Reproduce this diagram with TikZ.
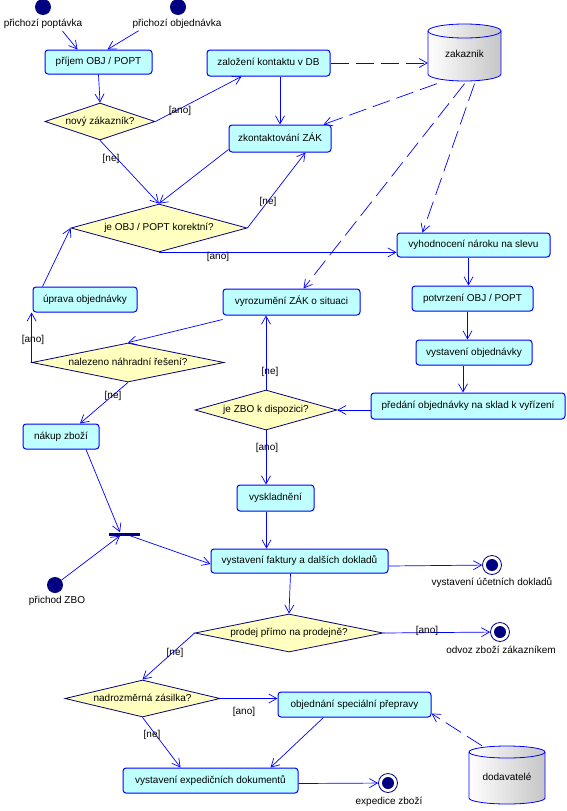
\documentclass[tikz,border=0pt]{standalone}
\usepackage{fontspec}
\setmainfont{Liberation Sans}
\usetikzlibrary{shapes.geometric,arrows.meta,backgrounds}

\definecolor{linec}{RGB}{0,0,255}
\definecolor{darkc}{RGB}{0,0,128}
\definecolor{actfill}{RGB}{192,255,255}
\definecolor{decfill}{RGB}{255,255,192}

\tikzset{
  act/.style={draw=linec, line width=1pt, fill=actfill, rounded corners=3pt,
    inner sep=0pt, text height=7pt, text depth=2pt},
  dec/.style={shape=diamond, draw=darkc, line width=0.8pt, fill=decfill,
    shape aspect=4.5, inner sep=0pt, text height=6pt, text depth=1pt},
  flow/.style={draw=linec, line width=0.7pt, -{Straight Barb[length=8pt,width=9pt]}},
  dep/.style={flow, dash pattern=on 18pt off 7pt},
  guard/.style={inner sep=0pt},
  startst/.style={circle, fill=darkc, minimum size=16pt, inner sep=0pt},
  endst/.style={circle, draw=darkc, fill=white, line width=0.8pt, minimum size=19pt,
    inner sep=0pt, path picture={\fill[darkc] (path picture bounding box.center) circle (6pt);}},
  dbase/.style={inner sep=0pt},
}

\begin{document}
\begin{tikzpicture}[x=1pt, y=-1pt, font=\fontsize{10}{12}\selectfont]

    \useasboundingbox (0,0) rectangle (567,811);

    % Start states and their names
    \node[startst] (ini1) at (43,7) {};
    \node[startst] (ini2) at (178,7) {};
    \node[startst] (ini3) at (55,585) {};
    \node (ini1lbl) at (43,24) {přichozí poptávka};
    \node (ini2lbl) at (177,24) {přichozí objednávka};
    \node (ini3lbl) at (57,601) {přichod ZBO};

    % Activities
    \node[act, minimum width=107pt, minimum height=24pt] (prijem) at (98.5,62) {příjem OBJ / POPT};
    \node[act, minimum width=123pt, minimum height=26pt] (zal) at (268.5,63) {založení kontaktu v DB};
    \node[act, minimum width=102pt, minimum height=27pt] (zk) at (280,138.5) {zkontaktování ZÁK};
    \node[act, minimum width=104pt, minimum height=25pt] (upr) at (85,299.5) {úprava objednávky};
    \node[act, minimum width=137pt, minimum height=26pt] (vyr) at (291.5,302) {vyrozumění ZÁK o situaci};
    \node[act, minimum width=153pt, minimum height=24pt] (vyh) at (473.5,245) {vyhodnocení nároku na slevu};
    \node[act, minimum width=121pt, minimum height=25pt] (pot) at (472.5,298.5) {potvrzení OBJ / POPT};
    \node[act, minimum width=116pt, minimum height=25pt] (vob) at (474,352.5) {vystavení objednávky};
    \node[act, minimum width=194pt, minimum height=26pt] (pre) at (468,406) {předání objednávky na sklad k vyřízení};
    \node[act, minimum width=76pt, minimum height=25pt] (nak) at (61,436.5) {nákup zboží};
    \node[act, minimum width=77pt, minimum height=26pt] (vys) at (275.5,498) {vyskladnění};
    \node[act, minimum width=177pt, minimum height=24pt] (fak) at (299.5,561) {vystavení faktury a dalších dokladů};
    \node[act, minimum width=153pt, minimum height=25pt] (obj) at (354.5,704.5) {objednání speciální přepravy};
    \node[act, minimum width=175pt, minimum height=25pt] (exp) at (210.5,780.5) {vystavení expedičních dokumentů};

    % Decisions
    \node[dec, minimum width=110pt, minimum height=37pt] (nz) at (100,121.5) {nový zákazník?};
    \node[dec, minimum width=176pt, minimum height=48pt] (korekt) at (159,228) {je OBJ / POPT korektní?};
    \node[dec, minimum width=192pt, minimum height=39pt] (nal) at (128,362.5) {nalezeno náhradní řešení?};
    \node[dec, minimum width=142pt, minimum height=40pt] (dzbo) at (266,410) {je ZBO k dispozici?};
    \node[dec, minimum width=188pt, minimum height=38pt] (prod) at (289,633) {prodej přímo na prodejně?};
    \node[dec, minimum width=155pt, minimum height=37pt] (nad) at (142.5,698.5) {nadrozměrná zásilka?};

    % Synchronisation bar
    \node[fill=darkc, minimum width=31pt, minimum height=3pt, inner sep=0pt] (bar) at (124,534) {};

    % End states and their names
    \node[endst] (fin1) at (492,565) {};
    \node[endst] (fin2) at (500,632) {};
    \node[endst] (fin3) at (388,783) {};
    \node (fin1lbl) at (492,582) {vystavení účetních dokladů};
    \node (fin2lbl) at (501,650) {odvoz zboží zákazníkem};
    \node (fin3lbl) at (389,802) {expedice zboží};

    % Data stores
    \node[dbase, minimum width=73pt, minimum height=57pt] (zak) at (464.5,54) {zakaznik};
    \node[dbase, minimum width=76pt, minimum height=58pt] (dod) at (507,777) {dodavatelé};
    \begin{scope}[on background layer]
      \shadedraw[left color=white, right color=gray!45, draw=linec, line width=0.8pt]
        (428,31) -- (428,74) arc[start angle=180, end angle=0, x radius=36.5, y radius=7]
        -- (501,31) arc[start angle=0, end angle=-180, x radius=36.5, y radius=7] -- cycle;
      \draw[linec, line width=0.8pt] (428,31) arc[start angle=180, end angle=0, x radius=36.5, y radius=7];
      \shadedraw[left color=white, right color=gray!45, draw=linec, line width=0.8pt]
        (469,752) -- (469,798) arc[start angle=180, end angle=0, x radius=38, y radius=6]
        -- (545,752) arc[start angle=0, end angle=-180, x radius=38, y radius=6] -- cycle;
      \draw[linec, line width=0.8pt] (469,752) arc[start angle=180, end angle=0, x radius=38, y radius=6];
    \end{scope}

    % Incoming requests
    \draw[flow, shorten <=31pt] (ini1.center) -- ([xshift=-21pt]prijem.north);
    \draw[flow, shorten <=46pt] (ini2.center) -- ([xshift=9pt]prijem.north);
    \draw[flow] (prijem.south) -- (nz.north);

    % New customer
    \draw[flow] (nz.east) -- ([xshift=35pt]zal.south west);
    \draw[flow] (nz.south) -- (korekt.north);
    \draw[flow] (zal.south -| zk.north) -- (zk.north);
    \draw[flow] ([yshift=3pt]zk.south west) -- (korekt.north);
    \draw[flow] (korekt.east) -- ([xshift=-26pt]zk.south east);
    \draw[flow] (korekt.south) -- (korekt.south -| vyh.west);
    \draw[flow] ([xshift=10pt]upr.north west) -- (korekt.west);

    % Database access
    \draw[dep] (zal.east) -- (zal.east -| zak.west);
    \draw[dep] ([xshift=9pt,yshift=-1pt]zak.south west) -- ([xshift=-8pt]zk.north east);
    \draw[dep] ([yshift=-1pt]zak.south) -- ([xshift=12pt]vyr.north);
    \draw[dep] ([xshift=10pt,yshift=-1pt]zak.south) -- ([xshift=26pt]vyh.north west);
    \draw[dep] ([xshift=-25pt,yshift=2pt]dod.north) -- ([yshift=4pt]obj.south east);

    % Order handling
    \draw[flow] ([xshift=-5pt]vyh.south) -- ([xshift=-5pt]vyh.south |- pot.north);
    \draw[flow] ([xshift=-5pt]pot.south) -- ([xshift=-5pt]pot.south |- vob.north);
    \draw[flow] ([xshift=-11pt]vob.south) -- ([xshift=-11pt]vob.south |- pre.north);
    \draw[flow] (dzbo.east -| pre.west) -- (dzbo.east);
    \draw[flow] (dzbo.north) -- (dzbo.north |- vyr.south);
    \draw[flow] (dzbo.south) -- (dzbo.south |- vys.north);
    \draw[flow] ([yshift=-4pt]vyr.south west) -- (nal.north);
    \draw[flow] (nal.west) -- (nal.west |- upr.south);
    \draw[flow] (nal.south) -- ([xshift=19pt]nak.north);

    % Goods
    \draw[flow] ([xshift=25pt]nak.south) -- ([xshift=-4pt]bar.north);
    \draw[flow] (ini3) -- ([xshift=-4pt]bar.south);
    \draw[flow] ([xshift=6pt]bar.south) -- ([yshift=-3pt]fak.west);
    \draw[flow] ([xshift=-9pt]vys.south) -- ([xshift=-9pt]vys.south |- fak.north);
    \draw[flow] ([yshift=-5pt]fak.east) -- (fin1);
    \draw[flow] ([xshift=-9pt]fak.south) -- (prod.north);

    % Dispatch
    \draw[flow] (prod.east) -- (fin2);
    \draw[flow] (prod.west) -- (nad.north);
    \draw[flow] (nad.east) -- (nad.east -| obj.west);
    \draw[flow] (nad.south) -- ([xshift=-30pt]exp.north);
    \draw[flow] ([xshift=-31pt]obj.south) -- ([xshift=60pt]exp.north);
    \draw[flow] ([yshift=-3pt]exp.east) -- (fin3);

    % Guards
    \node[guard] (g1) at (180,111) {[ano]};
    \node[guard] (g2) at (111,159) {[ne]};
    \node[guard] (g3) at (268,202) {[ne]};
    \node[guard] (g4) at (218,257) {[ano]};
    \node[guard] (g5) at (33,340) {[ano]};
    \node[guard] (g6) at (113,396) {[ne]};
    \node[guard] (g7) at (270,372) {[ne]};
    \node[guard] (g8) at (267,448) {[ano]};
    \node[guard] (g9) at (427,631) {[ano]};
    \node[guard] (g10) at (175,653) {[ne]};
    \node[guard] (g11) at (244,712) {[ano]};
    \node[guard] (g12) at (152,735) {[ne]};

\end{tikzpicture}
\end{document}
